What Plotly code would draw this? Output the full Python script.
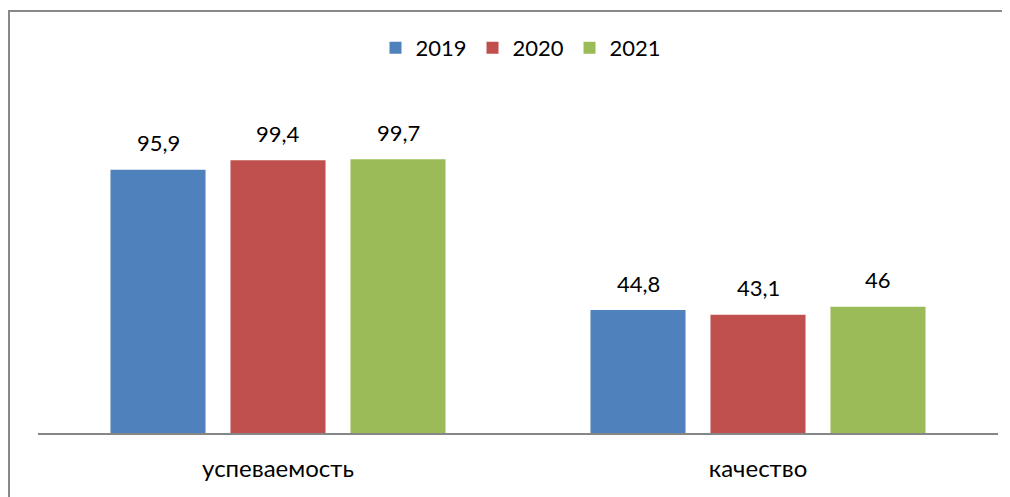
import plotly.graph_objects as go

categories = ["успеваемость", "качество"]
years = ["2019", "2020", "2021"]
values_2019 = [95.9, 44.8]
values_2020 = [99.4, 43.1]
values_2021 = [99.7, 46]
colors = ["#4F81BD", "#C0504D", "#9BBB59"]

series = [values_2019, values_2020, values_2021]
# page has an 8px body margin -> figure is 1002x489 in the 1010x497 window
W, H = 1002, 489
OFF = 8
FONT = "Lato"


def py(ypage):
    return 1 - (ypage - OFF) / H


def px(xpage):
    return (xpage - OFF) / W


fig = go.Figure()
for name, vals, col in zip(years, series, colors):
    fig.add_trace(go.Bar(
        x=categories, y=vals, name=name,
        marker=dict(color=col, line=dict(width=0)),
    ))

# data labels above bars
slot = 0.25
annotations = []
for si, vals in enumerate(series):
    off = (si - 1) * slot
    for ci, v in enumerate(vals):
        annotations.append(dict(
            x=ci + off, y=v, xref="x", yref="y",
            text=f"{v:g}".replace(".", ","),
            showarrow=False, yanchor="middle", yshift=27,
            font=dict(family=FONT, size=22, color="#000000"),
        ))

border = dict(color="#888888", width=2)
fig.update_layout(
    width=W, height=H,
    margin=dict(l=0, r=0, t=0, b=0),
    paper_bgcolor="white", plot_bgcolor="white",
    barmode="group", bargap=0.25, bargroupgap=0.208,
    separators=", ",
    font=dict(family=FONT, size=22, color="#000000"),
    showlegend=True,
    legend=dict(orientation="h", x=px(521), xanchor="center", y=py(48), yanchor="middle",
                font=dict(family=FONT, size=22), itemwidth=30, traceorder="normal",
                entrywidth=52, entrywidthmode="pixels",
                bgcolor="rgba(0,0,0,0)"),
    xaxis=dict(domain=[px(38), px(998)], range=[-0.5, 1.5], showline=True,
               linecolor="#868686", linewidth=1.5, ticks="", showgrid=False,
               zeroline=False, tickfont=dict(family=FONT, size=24), ticklabelstandoff=13),
    yaxis=dict(domain=[py(433), py(103.6)], range=[0, 120], visible=False,
               showgrid=False, zeroline=False),
    annotations=annotations,
    shapes=[
        dict(type="line", xref="paper", yref="paper",
             x0=px(9), x1=px(9), y0=-0.1, y1=py(10), line=border),
        dict(type="line", xref="paper", yref="paper",
             x0=px(8), x1=1.1, y0=py(11), y1=py(11), line=border),
    ],
)

fig.write_html("out.html")
